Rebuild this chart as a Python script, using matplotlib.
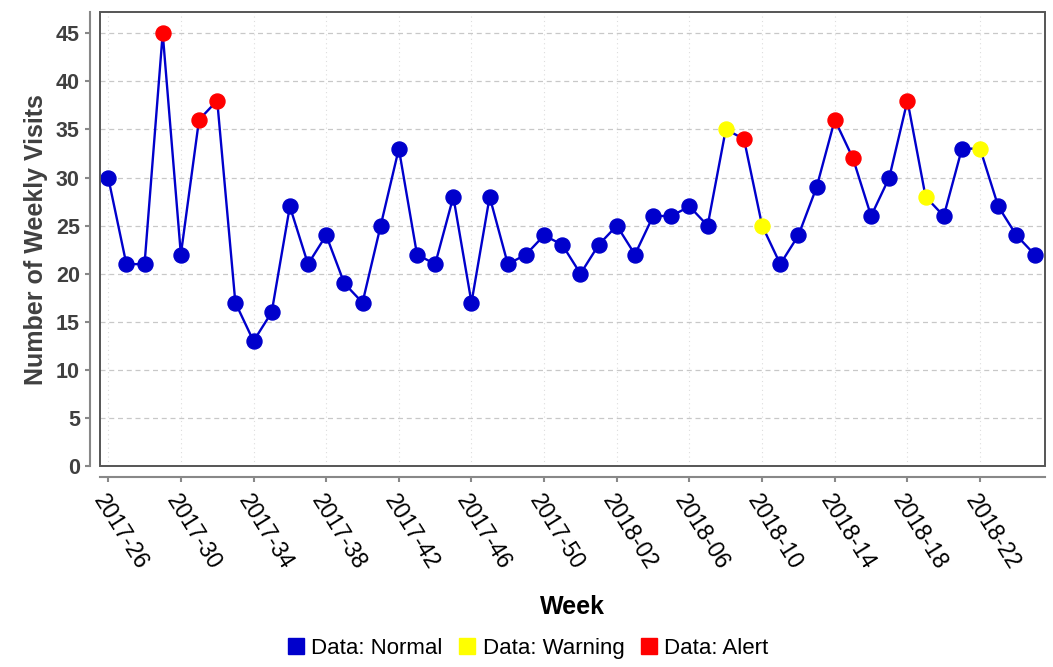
import matplotlib
matplotlib.use("Agg")
import matplotlib.pyplot as plt
from matplotlib.patches import Rectangle
from matplotlib.lines import Line2D

plt.rcParams['font.family'] = ['Liberation Sans', 'DejaVu Sans']

# weekly data
weeks = ['2017-%02d' % w for w in range(26, 53)] + ['2018-%02d' % w for w in range(1, 26)]
visits = [30, 21, 21, 45, 22, 36, 38, 17, 13, 16, 27, 21, 24, 19, 17, 25, 33, 22, 21, 28,
          17, 28, 21, 22, 24, 23, 20, 23, 25, 22, 26, 26, 27, 25, 35, 34, 25, 21, 24, 29,
          36, 32, 26, 30, 38, 28, 26, 33, 33, 27, 24, 22]
status = ['N', 'N', 'N', 'A', 'N', 'A', 'A', 'N', 'N', 'N', 'N', 'N', 'N', 'N', 'N', 'N',
          'N', 'N', 'N', 'N', 'N', 'N', 'N', 'N', 'N', 'N', 'N', 'N', 'N', 'N', 'N', 'N',
          'N', 'N', 'W', 'A', 'W', 'N', 'N', 'N', 'A', 'A', 'N', 'N', 'A', 'W', 'N', 'N',
          'W', 'N', 'N', 'N']
status_colors = {'N': '#0000CC', 'W': '#FFFF00', 'A': '#FF0000'}
status_names = {'N': 'Data: Normal', 'W': 'Data: Warning', 'A': 'Data: Alert'}

fig = plt.figure(figsize=(10.53, 6.67), dpi=100)
ax = fig.add_axes([0.095, 0.301, 0.897, 0.681])

x = list(range(len(weeks)))
ax.plot(x, visits, color='#0000CC', lw=1.7, zorder=3)
for s in ['N', 'W', 'A']:
    xs = [i for i in x if status[i] == s]
    ys = [visits[i] for i in xs]
    ax.plot(xs, ys, 'o', color=status_colors[s], markersize=10.8, zorder=4, ls='none')

ax.set_xlim(-0.45, len(weeks) - 0.45)
ax.set_ylim(0, 47.2)
ax.set_xticks(x[::4])
ax.set_xticklabels(weeks[::4])
ax.set_yticks(range(0, 50, 5))

ax.yaxis.grid(True, ls=(0, (4, 3)), color='#C8C8C8', lw=0.9)
ax.xaxis.grid(True, ls=(0, (1, 3)), color='#DDDDDD', lw=0.8)
ax.set_axisbelow(True)

# frame around plot area plus offset axis lines
ax.spines['top'].set_visible(False)
ax.spines['right'].set_visible(False)
ax.spines['left'].set_position(('outward', 7))
ax.spines['bottom'].set_position(('outward', 8))
for sp in ['left', 'bottom']:
    ax.spines[sp].set_color('#888888')
    ax.spines[sp].set_linewidth(1.5)
ax.tick_params(axis='both', colors='#888888', width=1.5, length=3.5)
ax.tick_params(axis='x', labelcolor='black', pad=6, labelsize=16.5, labelrotation=-58)
ax.tick_params(axis='y', labelcolor='#404040', pad=4, labelsize=15.5)
for lab in ax.get_xticklabels():
    lab.set_ha('left')
    lab.set_rotation_mode('anchor')
for lab in ax.get_yticklabels():
    lab.set_fontweight('bold')
ax.add_patch(Rectangle((0, 0), 1, 1, transform=ax.transAxes, fill=False,
                       edgecolor='#555555', lw=1.4, zorder=5, clip_on=False))

ax.set_ylabel('Number of Weekly Visits', fontsize=18, fontweight='bold', color='#404040', labelpad=6)
ax.set_xlabel('Week', fontsize=18, fontweight='bold', labelpad=15)

handles = [Line2D([], [], marker='s', ls='none', color=status_colors[s], markersize=11)
           for s in ['N', 'W', 'A']]
fig.legend(handles, [status_names[s] for s in ['N', 'W', 'A']], loc='center',
           bbox_to_anchor=(0.5, 0.028), ncol=3, frameon=False, fontsize=16,
           handletextpad=0.2, columnspacing=0.6, handlelength=1.0)

fig.savefig('out.png', dpi=100)
